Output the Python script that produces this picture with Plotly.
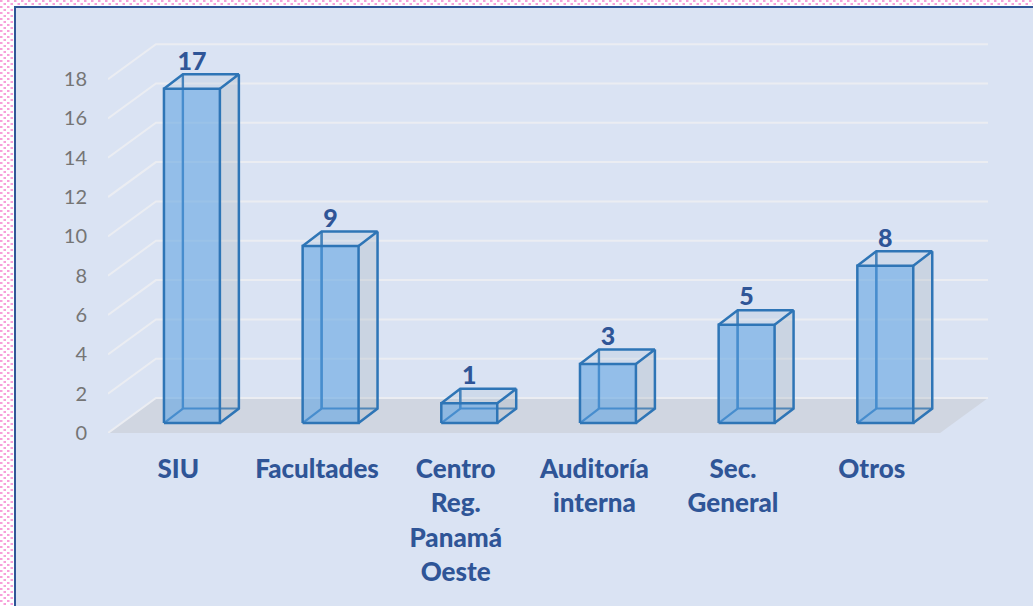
import base64
import plotly.graph_objects as go

categories = ["SIU", "Facultades", "Centro<br>Reg.<br>Panamá<br>Oeste", "Auditoría<br>interna", "Sec.<br>General", "Otros"]
values = [17, 9, 1, 3, 5, 8]
y_ticks = [0, 2, 4, 6, 8, 10, 12, 14, 16, 18]

# geometry of the pseudo-3D box, in axis units
PX_X = 138.83
PX_Y = 19.67
FLOOR_DX, FLOOR_DY = 48 / PX_X, 35 / PX_Y
BAR_DX, BAR_DY = 19 / PX_X, 14.5 / PX_Y
BAR_OFF, BAR_W = -13.4 / PX_X, 56 / PX_X
BASE = 10 / PX_Y
X_MIN = -0.5
X_FRONT_MAX = 5.5
X_MAX = X_FRONT_MAX + FLOOR_DX
Y_MAX = 20.5
LABEL_SHIFT = 1 / PX_X
VALUE_GAP = -1.5 / PX_Y

BG = "#DAE3F3"
DARK = "#2F5597"
LINE = "#2E75B6"
LABEL_PX = 26
VALUE_PX = 25
TICK_LINE_PX = 34.5 / 1.3


def poly(xs, ys, fill, line=None, width=0):
    return go.Scatter(
        x=xs, y=ys, mode="lines", fill="toself", fillcolor=fill,
        line=dict(color=line or "rgba(0,0,0,0)", width=width),
        hoverinfo="skip", showlegend=False,
    )


def path(xs, ys, color, width):
    return go.Scatter(
        x=xs, y=ys, mode="lines", line=dict(color=color, width=width),
        hoverinfo="skip", showlegend=False,
    )


fig = go.Figure()

# floor
fig.add_trace(poly(
    [X_MIN, X_MIN + FLOOR_DX, X_MAX, X_FRONT_MAX, X_MIN],
    [0, FLOOR_DY, FLOOR_DY, 0, 0], "#D0D6E1"))

# grid lines: front edge then along the back wall
for v in y_ticks:
    fig.add_trace(path([X_MIN, X_MIN + FLOOR_DX, X_MAX], [v, v + FLOOR_DY, v + FLOOR_DY], "#EBEDF2", 2))

for i, v in enumerate(values):
    x0 = i + BAR_OFF
    x1 = x0 + BAR_W
    y0 = BASE
    y1 = BASE + v
    # hidden edges, seen through the front face
    fig.add_trace(path(
        [x0 + BAR_DX, x0 + BAR_DX, x1 + BAR_DX, None, x0, x0 + BAR_DX, None, x0 + BAR_DX, x0 + BAR_DX],
        [y1 + BAR_DY, y0 + BAR_DY, y0 + BAR_DY, None, y0, y0 + BAR_DY, None, y0 + BAR_DY, y1 + BAR_DY],
        LINE, 2.2))
    # side
    fig.add_trace(poly([x1, x1 + BAR_DX, x1 + BAR_DX, x1, x1],
                       [y0, y0 + BAR_DY, y1 + BAR_DY, y1, y0], "rgba(165,178,190,0.30)"))
    # top
    fig.add_trace(poly([x0, x0 + BAR_DX, x1 + BAR_DX, x1, x0],
                       [y1, y1 + BAR_DY, y1 + BAR_DY, y1, y1], "rgba(165,185,210,0.22)"))
    # front
    fig.add_trace(poly([x0, x1, x1, x0, x0], [y0, y0, y1, y1, y0], "rgba(91,160,225,0.56)"))
    # visible edges
    fig.add_trace(path(
        [x0, x1, x1, x0, x0, None, x0, x0 + BAR_DX, x1 + BAR_DX, x1, None,
         x1 + BAR_DX, x1 + BAR_DX, x1],
        [y0, y0, y1, y1, y0, None, y1, y1 + BAR_DY, y1 + BAR_DY, y1, None,
         y1 + BAR_DY, y0 + BAR_DY, y0],
        LINE, 2.5))

# value labels
fig.add_trace(go.Scatter(
    x=[i + BAR_OFF + BAR_W / 2 for i in range(len(values))],
    y=[BASE + v + BAR_DY + VALUE_GAP for v in values],
    mode="text", text=[str(v) for v in values], textposition="top center",
    textfont=dict(family="Lato", size=VALUE_PX, color=DARK, weight=900),
    hoverinfo="skip", showlegend=False, cliponaxis=False,
))


def tick_label(s):
    return "<br>".join(
        f'<span style="font-size:{LABEL_PX}px;font-weight:900">{p}</span>' for p in s.split("<br>")
    )


dots = (
    '<svg xmlns="http://www.w3.org/2000/svg" width="1033" height="606">'
    '<defs><pattern id="p" width="7" height="6" patternUnits="userSpaceOnUse">'
    '<rect width="7" height="6" fill="#ffffff"/>'
    '<rect x="0" y="0" width="2.5" height="2" fill="#F7A0DA"/>'
    '<rect x="3.5" y="3" width="2.5" height="2" fill="#F7A0DA"/>'
    '</pattern></defs><rect width="1033" height="606" fill="url(#p)"/></svg>'
)
dots_uri = "data:image/svg+xml;base64," + base64.b64encode(dots.encode()).decode()

W, H = 1033, 606
L, R, T, B = 108, 988, 30, 433
fig.update_layout(
    width=W, height=H, autosize=False,
    margin=dict(l=L, r=W - R, t=T, b=H - B, pad=0),
    paper_bgcolor="white", plot_bgcolor="rgba(0,0,0,0)",
    showlegend=False,
    images=[dict(source=dots_uri, xref="paper", yref="paper",
                 x=-L / (R - L), y=1 + T / (B - T),
                 sizex=W / (R - L), sizey=H / (B - T),
                 xanchor="left", yanchor="top", sizing="stretch", layer="below")],
    shapes=[dict(type="rect", xref="paper", yref="paper",
                 x0=(15 - L) / (R - L), x1=(W + 5 - L) / (R - L),
                 y0=1 + (T - 7) / (B - T), y1=-(H + 5 - B) / (B - T),
                 fillcolor=BG, line=dict(color=DARK, width=2), layer="below")],
    xaxis=dict(
        range=[X_MIN, X_MAX], tickmode="array",
        tickvals=[i + LABEL_SHIFT for i in range(len(categories))],
        ticktext=[tick_label(c) for c in categories],
        tickfont=dict(family="Lato", size=TICK_LINE_PX, color=DARK),
        showgrid=False, zeroline=False, showline=False, ticks="", tickangle=0,
        ticklabelstandoff=17, fixedrange=True,
    ),
    yaxis=dict(
        range=[0, Y_MAX], tickmode="array", tickvals=y_ticks,
        tickfont=dict(family="Lato", size=20, color="#757575"),
        showgrid=False, zeroline=False, showline=False, ticks="",
        ticklabelstandoff=20, fixedrange=True,
    ),
)

fig.write_html("out.html", config=dict(displayModeBar=False),
               post_script="document.body.style.margin='0';document.body.style.overflow='hidden';")
